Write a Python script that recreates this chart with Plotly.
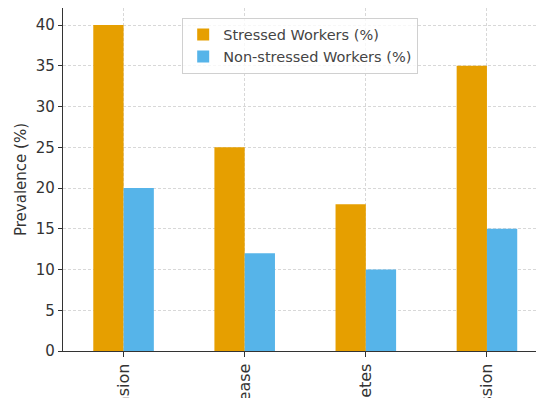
import plotly.graph_objects as go

categories = ["Hypertension", "Heart Disease", "Diabetes", "Depression"]
stressed = [40, 25, 18, 35]
non_stressed = [20, 12, 10, 15]
y_ticks = [0, 5, 10, 15, 20, 25, 30, 35, 40]

font = "DejaVu Sans"
fig = go.Figure()
fig.add_trace(go.Bar(x=categories, y=stressed, name="Stressed Workers (%)",
                     marker=dict(color="#E69F00", line=dict(width=0))))
fig.add_trace(go.Bar(x=categories, y=non_stressed, name="Non-stressed Workers (%)",
                     marker=dict(color="#56B4E9", line=dict(width=0))))

fig.update_layout(
    width=536, height=398,
    margin=dict(l=63, r=0, t=8, b=47),
    paper_bgcolor="white", plot_bgcolor="white",
    barmode="group", bargap=0.5, bargroupgap=0,
    font=dict(family=font, size=14.5, color="#333333"),
    legend=dict(x=0.252, y=0.972, xanchor="left", yanchor="top",
                bgcolor="rgba(255,255,255,0.8)", bordercolor="#d0d0d0", borderwidth=1,
                font=dict(size=14.5, color="#444444"), tracegroupgap=0),
)
fig.update_xaxes(
    type="category", range=[-0.5, 3.405], tickangle=-90,
    showline=True, linecolor="#333333", linewidth=1.3,
    ticks="outside", ticklen=5, tickcolor="#333333",
    showgrid=True, gridcolor="#d8d8d8", griddash="3px,2px", gridwidth=0.8,
    automargin=False, tickfont=dict(size=16, color="#333333"),
)
fig.update_yaxes(
    range=[0, 42.1], tickvals=y_ticks,
    showline=True, linecolor="#333333", linewidth=1.3,
    ticks="outside", ticklen=4, tickcolor="#333333",
    showgrid=True, gridcolor="#d8d8d8", griddash="3px,2px", gridwidth=0.8,
    zeroline=False, automargin=False,
    title=dict(text="Prevalence (%)", standoff=5, font=dict(size=15, color="#333333")),
    tickfont=dict(size=15, color="#333333"),
)

fig.write_html("out.html")
